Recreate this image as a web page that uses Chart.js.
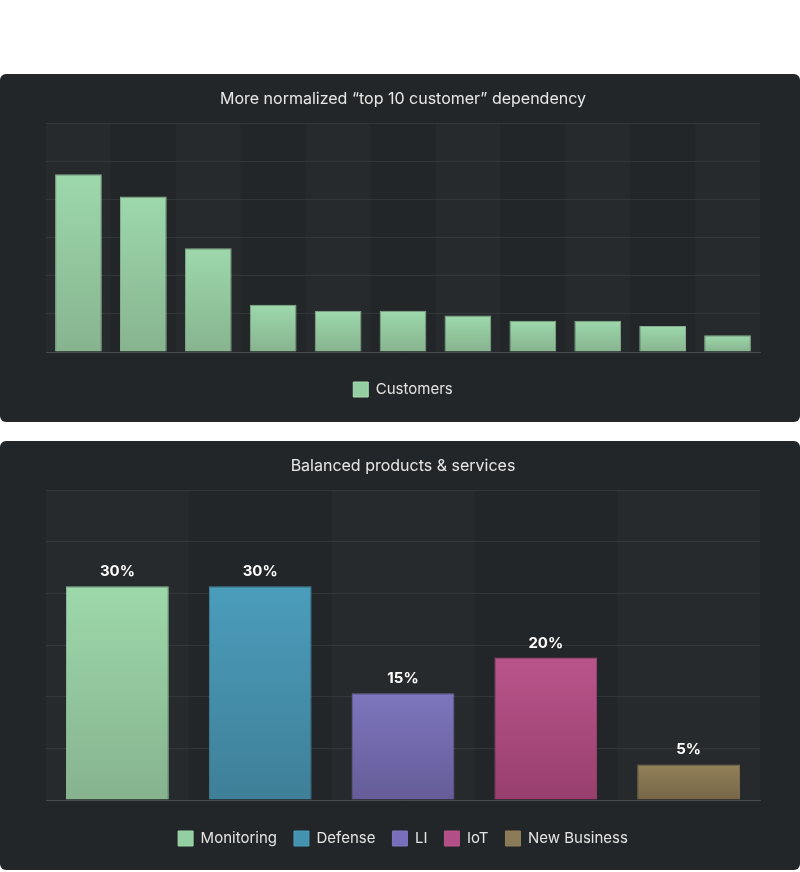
<!DOCTYPE html>
<html>
<head>
<meta charset="utf-8">
<script src="https://cdn.jsdelivr.net/npm/chart.js@4"></script>
<style>
  html, body { margin: 0; padding: 0; background: #fff; }
  body { width: 800px; height: 872px; position: relative; overflow: hidden; }
  .panel { position: absolute; left: 0; width: 800px; background: #232628; border-radius: 6px; }
  #p1 { top: 74px; height: 348px; }
  #p2 { top: 441px; height: 429px; }
</style>
</head>
<body>
<div class="panel" id="p1"><canvas id="customers"></canvas></div>
<div class="panel" id="p2"><canvas id="products"></canvas></div>
<script>
  // top chart
  const customerLabels = ["C1","C2","C3","C4","C5","C6","C7","C8","C9","C10","C11"];
  const customerShare = [23.3, 20.4, 13.6, 6.2, 5.4, 5.4, 4.8, 4.1, 4.1, 3.4, 2.2];

  // bottom chart
  const productLabels = ["Monitoring", "Defense", "LI", "IoT", "New Business"];
  const productShare = [30, 30, 15, 20, 5];

  const greenTop = "#9dd8ab", greenBottom = "#87b48f";
  const productTop = ["#9dd8aa", "#4a9dbb", "#7e76be", "#b9548a", "#918058"];
  const productBottom = ["#86b38e", "#3f7f98", "#655c98", "#983f6f", "#766647"];
  const productBox = ["#93cfa1", "#4592ae", "#786ebb", "#b34f87", "#8a7a58"];

  Chart.defaults.font.family = "Inter, 'Noto Sans', sans-serif";
  Chart.defaults.color = "#e4e4e4";
  Chart.defaults.animation = false;

  function gradient(ctx, top, bottom) {
    const chart = ctx.chart;
    if (!chart.chartArea || !ctx.parsed) return top;
    const y = chart.scales.y;
    const g = chart.ctx.createLinearGradient(0, y.getPixelForValue(ctx.parsed.y), 0, y.getPixelForValue(0));
    g.addColorStop(0, top);
    g.addColorStop(1, bottom);
    return g;
  }

  // alternating column shading
  const bands = {
    id: "bands",
    beforeDatasetsDraw(chart) {
      const { ctx, chartArea } = chart;
      const n = chart.data.labels.length;
      const w = chartArea.width / n;
      ctx.save();
      ctx.fillStyle = "rgba(255,255,255,0.02)";
      for (let i = 0; i < n; i += 2) {
        ctx.fillRect(chartArea.left + i * w, chartArea.top, w, chartArea.height);
      }
      ctx.restore();
    }
  };

  const valueLabels = {
    id: "valueLabels",
    afterDatasetsDraw(chart) {
      const { ctx } = chart;
      const meta = chart.getDatasetMeta(0);
      ctx.save();
      ctx.font = "bold 15px Inter, 'Noto Sans', sans-serif";
      ctx.fillStyle = "#ffffff";
      ctx.textAlign = "center";
      ctx.textBaseline = "bottom";
      meta.data.forEach((bar, i) => {
        ctx.fillText(chart.data.datasets[0].data[i] + "%", bar.x, bar.y - 7);
      });
      ctx.restore();
    }
  };

  // gap = extra space between baseline and legend
  function scales(max, step, gap) {
    return {
      x: {
        grid: { display: false },
        ticks: { display: false },
        border: { color: "#4a4d50", width: 1 },
        afterFit: s => { s.height = gap; }
      },
      y: {
        min: 0, max: max,
        ticks: { display: false, stepSize: step },
        grid: { color: "rgba(255,255,255,0.07)", drawTicks: false },
        border: { display: false }
      }
    };
  }

  function legendOpts(items) {
    return {
      position: "bottom",
      labels: {
        boxWidth: 15, boxHeight: 15, padding: 17,
        useBorderRadius: true, borderRadius: 2,
        font: { size: 15 }, color: "#e4e4e4",
        generateLabels: () => items
      }
    };
  }

  function titleOpts(text) {
    return {
      display: true,
      text: text,
      font: { size: 16, weight: "normal" },
      color: "#e8e8e8",
      padding: { top: 16, bottom: 14 }
    };
  }

  new Chart(document.getElementById("customers"), {
    type: "bar",
    data: {
      labels: customerLabels,
      datasets: [{
        label: "Customers",
        data: customerShare,
        backgroundColor: ctx => gradient(ctx, greenTop, greenBottom),
        borderColor: "rgba(175,228,188,0.7)",
        borderWidth: 1
      }]
    },
    options: {
      responsive: true,
      maintainAspectRatio: false,
      layout: { padding: { left: 46, right: 40, top: 0, bottom: 15 } },
      scales: scales(30, 5, 13),
      plugins: {
        title: titleOpts("More normalized \u201ctop 10 customer\u201d dependency"),
        legend: legendOpts([{
          text: "Customers", fillStyle: "#93cfa1", strokeStyle: "#a8dcb4",
          lineWidth: 1, fontColor: "#e4e4e4", hidden: false, datasetIndex: 0
        }]),
        tooltip: { enabled: false }
      }
    },
    plugins: [bands]
  });

  new Chart(document.getElementById("products"), {
    type: "bar",
    data: {
      labels: productLabels,
      datasets: [{
        label: "Share",
        data: productShare,
        backgroundColor: ctx => gradient(ctx, productTop[ctx.dataIndex], productBottom[ctx.dataIndex]),
        borderColor: productTop.map(c => c + "cc"),
        borderWidth: 1
      }]
    },
    options: {
      responsive: true,
      maintainAspectRatio: false,
      layout: { padding: { left: 46, right: 40, top: 0, bottom: 14 } },
      scales: scales(43.5, 7.25, 14),
      plugins: {
        title: titleOpts("Balanced products & services"),
        legend: legendOpts(productLabels.map((l, i) => ({
          text: l, fillStyle: productBox[i], strokeStyle: productTop[i],
          lineWidth: 1, fontColor: "#e4e4e4", hidden: false, index: i
        }))),
        tooltip: { enabled: false }
      }
    },
    plugins: [bands, valueLabels]
  });
</script>
</body>
</html>
